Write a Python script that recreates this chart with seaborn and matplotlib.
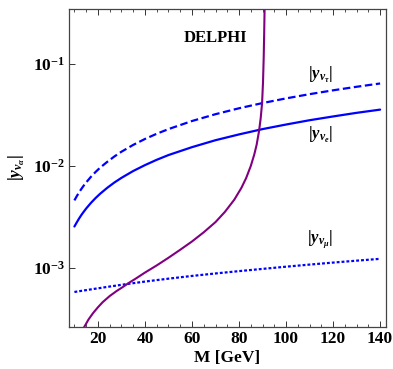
import matplotlib
matplotlib.use("Agg")
import matplotlib.pyplot as plt
import numpy as np
import pandas as pd
import seaborn as sns
from matplotlib.ticker import FixedLocator, MultipleLocator, NullLocator

# Yukawa couplings |y_nu| versus heavy neutrino mass M [GeV]
mass = [10, 11, 12, 13, 14, 15, 17, 19, 21, 24, 27, 30, 35, 40, 45, 50,
        60, 70, 80, 90, 100, 110, 120, 130, 140]
y_nu_e = [2.55e-3, 2.80e-3, 3.06e-3, 3.32e-3, 3.57e-3, 3.83e-3, 4.34e-3,
          4.85e-3, 5.36e-3, 6.12e-3, 6.89e-3, 7.65e-3, 8.93e-3, 1.02e-2,
          1.15e-2, 1.28e-2, 1.53e-2, 1.79e-2, 2.04e-2, 2.30e-2, 2.55e-2,
          2.81e-2, 3.06e-2, 3.32e-2, 3.57e-2]
y_nu_tau = [4.60e-3, 5.06e-3, 5.52e-3, 5.98e-3, 6.44e-3, 6.90e-3, 7.82e-3,
            8.74e-3, 9.66e-3, 1.10e-2, 1.24e-2, 1.38e-2, 1.61e-2, 1.84e-2,
            2.07e-2, 2.30e-2, 2.76e-2, 3.22e-2, 3.68e-2, 4.14e-2, 4.60e-2,
            5.06e-2, 5.52e-2, 5.98e-2, 6.44e-2]
y_nu_mu = [5.82e-4, 5.87e-4, 5.92e-4, 5.97e-4, 6.02e-4, 6.07e-4, 6.17e-4,
           6.27e-4, 6.37e-4, 6.53e-4, 6.68e-4, 6.84e-4, 7.10e-4, 7.36e-4,
           7.61e-4, 7.86e-4, 8.36e-4, 8.84e-4, 9.32e-4, 9.80e-4, 1.03e-3,
           1.08e-3, 1.13e-3, 1.18e-3, 1.23e-3]

# DELPHI exclusion bound
delphi_mass = [13.0, 14.0, 15.0, 16.0, 18.0, 20.0, 22.0, 25.0, 28.0, 30.0,
               33.0, 36.0, 40.0, 45.0, 50.0, 55.0, 60.0, 65.0, 70.0, 74.0,
               78.0, 81.0, 83.0, 85.0, 86.5, 87.5, 88.5, 89.2, 89.8, 90.2,
               90.5, 90.7, 90.9, 91.0]
delphi_bound = [2.34e-4, 2.60e-4, 2.85e-4, 3.13e-4, 3.63e-4, 4.12e-4, 4.62e-4,
                5.31e-4, 5.96e-4, 6.38e-4, 7.11e-4, 7.85e-4, 9.02e-4, 1.06e-3,
                1.26e-3, 1.51e-3, 1.82e-3, 2.24e-3, 2.82e-3, 3.55e-3, 4.68e-3,
                6.10e-3, 7.59e-3, 1.00e-2, 1.30e-2, 1.62e-2, 2.19e-2, 2.92e-2,
                4.12e-2, 6.61e-2, 0.117, 0.20, 0.38, 0.56]

xticks = [20, 40, 60, 80, 100, 120, 140]
yticks = [1e-3, 1e-2, 1e-1]
ytick_labels = [r"$10^{-3}$", r"$10^{-2}$", r"$10^{-1}$"]

sns.set_style("ticks")
plt.rcParams["font.family"] = ["Liberation Serif", "DejaVu Serif"]
plt.rcParams["font.weight"] = "bold"
plt.rcParams["mathtext.fontset"] = "custom"
plt.rcParams["mathtext.rm"] = "Liberation Serif:bold"
plt.rcParams["mathtext.it"] = "Liberation Serif:italic:bold"
plt.rcParams["mathtext.bf"] = "Liberation Serif:bold"
for key in ("text.color", "axes.labelcolor", "xtick.labelcolor", "ytick.labelcolor"):
    plt.rcParams[key] = "black"

couplings = pd.DataFrame({"M": mass, "e": y_nu_e, "tau": y_nu_tau, "mu": y_nu_mu})
bound = pd.DataFrame({"M": delphi_mass, "y": delphi_bound})

fig = plt.figure(figsize=(3.93, 3.69), dpi=100)
ax = fig.add_axes([69 / 393, 1 - 327 / 369, (386 - 69) / 393, (327 - 9) / 369])

blue = "#0000ff"
sns.lineplot(data=couplings, x="M", y="tau", ax=ax, color=blue, lw=1.6,
             linestyle=(0, (3.4, 1.6)))
sns.lineplot(data=couplings, x="M", y="e", ax=ax, color=blue, lw=1.6)
sns.lineplot(data=couplings, x="M", y="mu", ax=ax, color=blue, lw=1.6,
             linestyle=(0, (1.3, 0.9)))
sns.lineplot(data=bound, x="M", y="y", ax=ax, color="#800080", lw=1.5, sort=False)

ax.set_yscale("log")
ax.set_xlim(7.7, 142.5)
ax.set_ylim(2.64e-4, 0.346)

ax.xaxis.set_major_locator(FixedLocator(xticks))
ax.xaxis.set_minor_locator(MultipleLocator(5))
ax.yaxis.set_major_locator(FixedLocator(yticks))
ax.yaxis.set_minor_locator(NullLocator())
ax.set_yticklabels(ytick_labels)
ax.set_xticklabels([str(t) for t in xticks])

ax.tick_params(axis="x", which="major", direction="in", top=True, length=4,
               width=0.7, labelsize=12.5, pad=3, color="#333333")
ax.tick_params(axis="x", which="minor", direction="in", top=True, length=2.2,
               width=0.6, color="#333333")
ax.tick_params(axis="y", which="major", direction="in", right=False, length=4,
               width=0.7, labelsize=12.5, pad=3, color="#333333")
for lbl in ax.get_xticklabels() + ax.get_yticklabels():
    lbl.set_fontweight("bold")

for sp in ax.spines.values():
    sp.set_linewidth(0.9)
    sp.set_color("#444444")

ax.set_xlabel("M [GeV]", fontsize=12.5, fontweight="bold", labelpad=2)
ax.set_ylabel(r"$|y_{\nu_\alpha}|$", fontsize=12.5, labelpad=4)

ax.text(70, 0.178, "DELPHI", ha="center", va="center", fontsize=12,
        fontweight="bold")
ax.text(114.5, 0.078, r"$|y_{\nu_\tau}|$", ha="center", va="center", fontsize=12)
ax.text(114.5, 0.0201, r"$|y_{\nu_e}|$", ha="center", va="center", fontsize=12)
ax.text(114.5, 1.88e-3, r"$|y_{\nu_\mu}|$", ha="center", va="center", fontsize=12)

fig.savefig("out.png", dpi=100)
